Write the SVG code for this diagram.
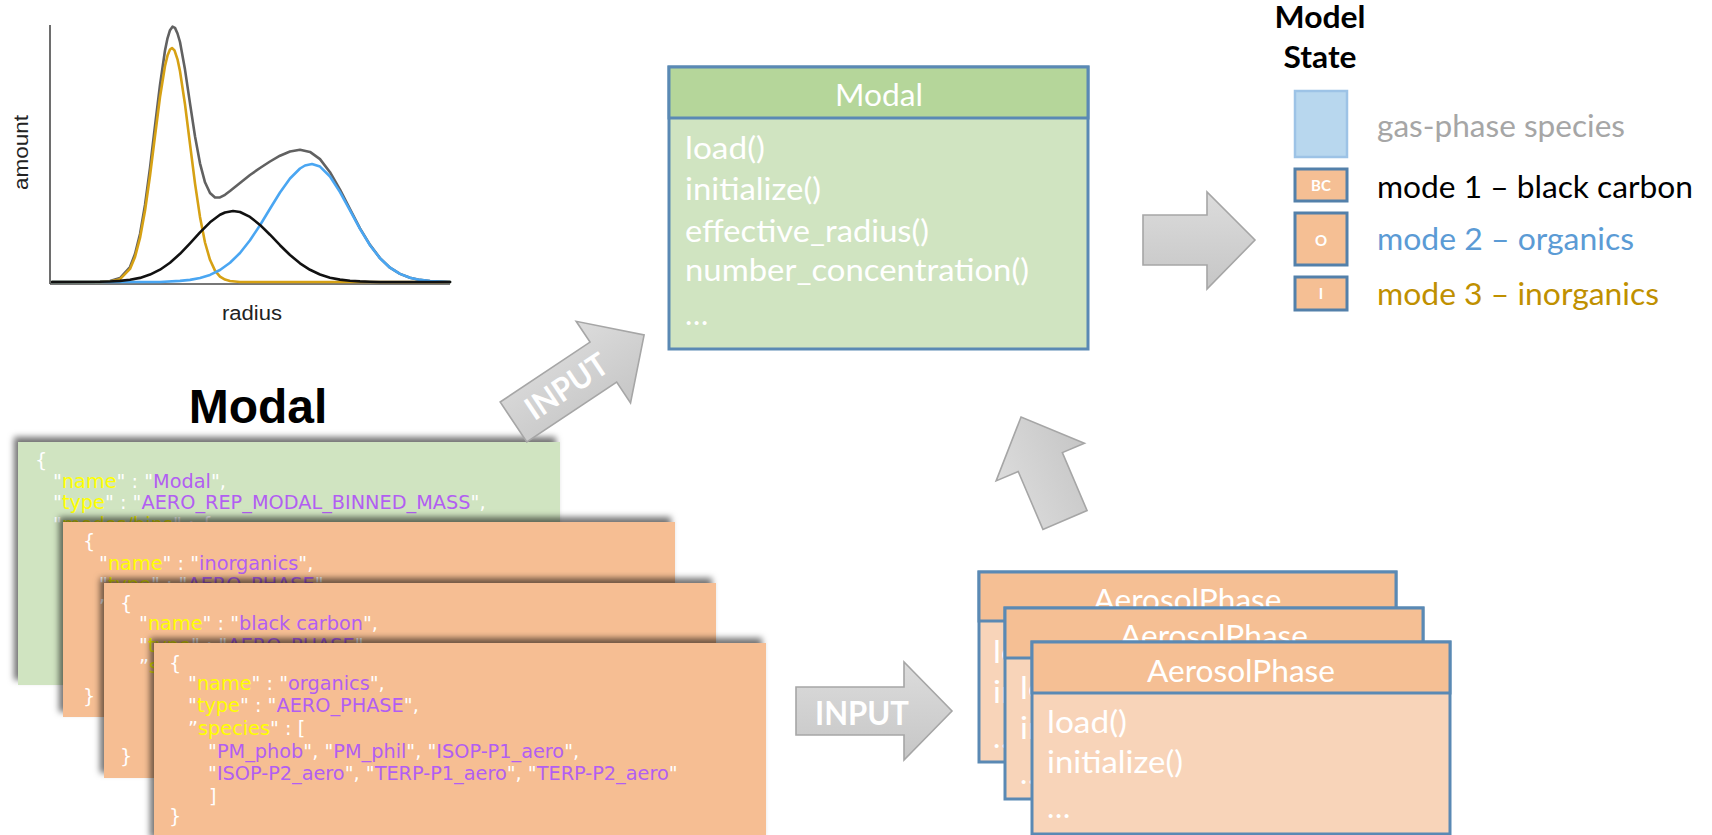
<svg xmlns="http://www.w3.org/2000/svg" width="1712" height="835" viewBox="0 0 1712 835">
  <defs>
    <linearGradient id="arrowFill" x1="0" y1="0" x2="0" y2="1">
      <stop offset="0" stop-color="#dcdcdc"/>
      <stop offset="1" stop-color="#c6c6c6"/>
    </linearGradient>
    <!-- soft drop shadow cast up and to the left by the stacked JSON cards -->
    <filter id="cardShadow" x="-5%" y="-10%" width="110%" height="120%">
      <feGaussianBlur in="SourceAlpha" stdDeviation="3"/>
      <feOffset dx="-4" dy="-5" result="blur"/>
      <feFlood flood-color="#000" flood-opacity="0.55"/>
      <feComposite in2="blur" operator="in"/>
      <feMerge>
        <feMergeNode/>
        <feMergeNode in="SourceGraphic"/>
      </feMerge>
    </filter>
  </defs>
  <style>
    .axis { stroke: #4a4a4a; stroke-width: 1.6; fill: none; }
    .curve { fill: none; stroke-width: 2.6; stroke-linejoin: round; stroke-linecap: round; }
    .chartLabel { font-family: "Liberation Sans", Arial, sans-serif; font-size: 19.5px; fill: #222; }
    .json { font-family: "DejaVu Sans", Verdana, sans-serif; font-size: 19.3px; white-space: pre; }
    .p { fill: #ffffff; }
    .k { fill: #ffff00; }
    .v { fill: #b25ef2; }
    .green { fill: #d0e4c1; }
    .orange { fill: #f6be93; }
    .cal { font-family: Lato, "Open Sans", sans-serif; font-size: 31px; }
    .calb { font-family: Lato, "Open Sans", sans-serif; font-size: 31px; font-weight: bold; }
    .white { fill: #ffffff; }
    .frame { stroke: #5a89b4; stroke-width: 3; }
    .hdrGreen { fill: #b5d69a; }
    .bodyGreen { fill: #d0e4c1; }
    .hdrOrange { fill: #f5bf94; }
    .bodyOrange { fill: #f8d4b9; }
    .modeBox { fill: #f5bf94; stroke: #5380aa; stroke-width: 3; }
    .modeTag { font-family: Lato, "Open Sans", sans-serif; font-size: 15px; font-weight: bold; fill: #fff; text-anchor: middle; }
    .blockArrow { fill: url(#arrowFill); stroke: #a6a6a6; stroke-width: 1.6; }
    .arrowLabel { font-family: Lato, "Open Sans", sans-serif; font-size: 32px; font-weight: bold; fill: #fff; }
  </style>

  <rect width="1712" height="835" fill="#ffffff"/>

  <!-- modal size distribution sketch -->
  <g id="size-distribution">
    <line class="axis" x1="50" y1="25" x2="50" y2="284"/>
    <line class="axis" x1="50" y1="284" x2="450" y2="284"/>
    <polyline class="curve" stroke="#616161" stroke-width="3" points="52,282 100,282 110,281 120,278 130,267 135,254 140,234 145,205 150,168 155,126 160,85 165,50.5 167.5,38.3 170,30.2 172.5,26.7 175,27.9 177.5,33.5 180,42 185,69.6 190,103.4 195,136.2 200,163.3 205,182.3 210,193 215,197.5 220,197.4 225,194.8 230,191 240,183 250,175 260,168 270,161.5 280,155.7 290,151.5 300,149.8 310,151.9 320,159.1 330,172.2 340,189.7 350,209.2 360,228.3 370,244.9 380,258.1 390,267.7 400,273.9 410,277.8 420,279.9 430,281 440,281.6 450,282"/>
    <polyline class="curve" stroke="#d6a114" points="52,282 100,282 110,281.6 120,279.2 130,268.9 135,257 140,238 145,210.8 150,175.8 155,136 160,97 165,66 167.5,55.6 170,49.5 172,48 174.5,50.4 177.5,59.3 180,71.2 185,104.4 190,144.2 195,183.3 200,216.9 205,242.5 210,259.8 215,270.6 220,276.6 225,279.6 230,281 240,282 450,282"/>
    <polyline class="curve" stroke="#4aa6f2" points="52,282 160,282 180,280.9 190,279.9 200,278 210,274.9 220,270 230,262.8 240,253 250,240.3 260,225.2 270,208.8 280,192.5 290,178.5 300,168.5 305,165.5 312,164 320,166.6 330,176.5 340,192.1 350,210.4 360,228.9 370,245.2 380,258.2 390,267.7 400,273.9 410,277.8 420,279.9 430,281 440,281.6 450,282"/>
    <polyline class="curve" stroke="#111111" points="52,282 100,281.8 110,281.5 120,280.9 130,279.8 140,277.9 150,274.6 160,269.7 170,262.7 180,253.8 190,243.3 200,232.4 210,222.3 220,214.8 225,212.5 233,211 240,212 250,216.9 260,224.9 270,234.7 280,245.2 290,255 300,263.3 310,269.8 320,274.5 330,277.7 340,279.6 350,280.8 360,281.4 370,281.7 380,282 450,282"/>
    <text class="chartLabel" x="222" y="320" textLength="60" lengthAdjust="spacingAndGlyphs">radius</text>
    <text class="chartLabel" transform="translate(28 190) rotate(-90)" x="0" y="0" textLength="75" lengthAdjust="spacingAndGlyphs">amount</text>
  </g>

  <text id="config-title" x="258" y="423" font-family="Liberation Sans, Arial, sans-serif" font-size="48" font-weight="bold" text-anchor="middle" fill="#000">Modal</text>

  <!-- JSON configuration: aerosol representation -->
  <g id="json-modal">
    <rect class="green" x="18" y="442" width="542" height="243" filter="url(#cardShadow)"/>
    <text class="json" x="35" y="467"><tspan class="p">{</tspan></text>
    <text class="json" x="53" y="488"><tspan class="p">"</tspan><tspan class="k">name</tspan><tspan class="p">" : "</tspan><tspan class="v">Modal</tspan><tspan class="p">",</tspan></text>
    <text class="json" x="53" y="509"><tspan class="p">"</tspan><tspan class="k">type</tspan><tspan class="p">" : "</tspan><tspan class="v">AERO_REP_MODAL_BINNED_MASS</tspan><tspan class="p">",</tspan></text>
    <text class="json" x="53" y="531"><tspan class="p">"</tspan><tspan class="k">modes/bins</tspan><tspan class="p">" : {</tspan></text>
  </g>

  <!-- JSON configuration: aerosol phases -->
  <g id="json-inorganics">
    <rect class="orange" x="63" y="522" width="612" height="195" filter="url(#cardShadow)"/>
    <text class="json" x="83" y="548"><tspan class="p">{</tspan></text>
    <text class="json" x="99" y="570"><tspan class="p">"</tspan><tspan class="k">name</tspan><tspan class="p">" : "</tspan><tspan class="v">inorganics</tspan><tspan class="p">",</tspan></text>
    <text class="json" x="99" y="591"><tspan class="p">"</tspan><tspan class="k">type</tspan><tspan class="p">" : "</tspan><tspan class="v">AERO_PHASE</tspan><tspan class="p">",</tspan></text>
    <text class="json" x="99" y="613"><tspan class="p">”</tspan><tspan class="k">species</tspan><tspan class="p">" : [</tspan></text>
    <text class="json" x="83" y="703"><tspan class="p">}</tspan></text>
  </g>

  <g id="json-black-carbon">
    <rect class="orange" x="104" y="583" width="612" height="195" filter="url(#cardShadow)"/>
    <text class="json" x="120" y="610"><tspan class="p">{</tspan></text>
    <text class="json" x="139" y="630"><tspan class="p">"</tspan><tspan class="k">name</tspan><tspan class="p">" : "</tspan><tspan class="v">black carbon</tspan><tspan class="p">",</tspan></text>
    <text class="json" x="139" y="652"><tspan class="p">"</tspan><tspan class="k">type</tspan><tspan class="p">" : "</tspan><tspan class="v">AERO_PHASE</tspan><tspan class="p">",</tspan></text>
    <text class="json" x="139" y="673"><tspan class="p">”</tspan><tspan class="k">species</tspan><tspan class="p">" : [</tspan></text>
    <text class="json" x="120" y="763"><tspan class="p">}</tspan></text>
  </g>

  <g id="json-organics">
    <rect class="orange" x="154" y="643" width="612" height="200" filter="url(#cardShadow)"/>
    <text class="json" x="169" y="670"><tspan class="p">{</tspan></text>
    <text class="json" x="188" y="690"><tspan class="p">"</tspan><tspan class="k">name</tspan><tspan class="p">" : "</tspan><tspan class="v">organics</tspan><tspan class="p">",</tspan></text>
    <text class="json" x="188" y="712"><tspan class="p">"</tspan><tspan class="k">type</tspan><tspan class="p">" : "</tspan><tspan class="v">AERO_PHASE</tspan><tspan class="p">",</tspan></text>
    <text class="json" x="188" y="735"><tspan class="p">”</tspan><tspan class="k">species</tspan><tspan class="p">" : [</tspan></text>
    <text class="json" x="208" y="758"><tspan class="p">"</tspan><tspan class="v">PM_phob</tspan><tspan class="p">", "</tspan><tspan class="v">PM_phil</tspan><tspan class="p">", "</tspan><tspan class="v">ISOP-P1_aero</tspan><tspan class="p">",</tspan></text>
    <text class="json" x="208" y="780"><tspan class="p">"</tspan><tspan class="v">ISOP-P2_aero</tspan><tspan class="p">", "</tspan><tspan class="v">TERP-P1_aero</tspan><tspan class="p">", "</tspan><tspan class="v">TERP-P2_aero</tspan><tspan class="p">"</tspan></text>
    <text class="json" x="209" y="803"><tspan class="p">]</tspan></text>
    <text class="json" x="169" y="823"><tspan class="p">}</tspan></text>
  </g>

  <!-- Modal aerosol representation class -->
  <g id="modal-class">
    <rect class="bodyGreen frame" x="669" y="67" width="419" height="282"/>
    <rect class="hdrGreen frame" x="669" y="67" width="419" height="51"/>
    <text class="cal white" x="879" y="106" text-anchor="middle" textLength="88" lengthAdjust="spacingAndGlyphs">Modal</text>
    <text class="cal white" x="685" y="159" textLength="80" lengthAdjust="spacingAndGlyphs">load()</text>
    <text class="cal white" x="685" y="200" textLength="136" lengthAdjust="spacingAndGlyphs">initialize()</text>
    <text class="cal white" x="685" y="242" textLength="244" lengthAdjust="spacingAndGlyphs">effective_radius()</text>
    <text class="cal white" x="685" y="281" textLength="344" lengthAdjust="spacingAndGlyphs">number_concentration()</text>
    <text class="cal white" x="685" y="325">…</text>
  </g>

  <!-- AerosolPhase class instances -->
  <g id="aerosol-phase-1">
    <rect class="bodyOrange frame" x="979" y="572" width="417" height="190"/>
    <rect class="hdrOrange frame" x="979" y="572" width="417" height="49"/>
    <text class="cal white" x="1187.5" y="611" text-anchor="middle" textLength="188" lengthAdjust="spacingAndGlyphs">AerosolPhase</text>
    <text class="cal white" x="993" y="663" textLength="80" lengthAdjust="spacingAndGlyphs">load()</text>
    <text class="cal white" x="993" y="703" textLength="136" lengthAdjust="spacingAndGlyphs">initialize()</text>
    <text class="cal white" x="993" y="748">…</text>
  </g>
  <g id="aerosol-phase-2">
    <rect class="bodyOrange frame" x="1005" y="608" width="418" height="191"/>
    <rect class="hdrOrange frame" x="1005" y="608" width="418" height="50"/>
    <text class="cal white" x="1214" y="647" text-anchor="middle" textLength="188" lengthAdjust="spacingAndGlyphs">AerosolPhase</text>
    <text class="cal white" x="1020" y="699" textLength="80" lengthAdjust="spacingAndGlyphs">load()</text>
    <text class="cal white" x="1020" y="739" textLength="136" lengthAdjust="spacingAndGlyphs">initialize()</text>
    <text class="cal white" x="1020" y="784">…</text>
  </g>
  <g id="aerosol-phase-3">
    <rect class="bodyOrange frame" x="1032" y="642" width="418" height="192"/>
    <rect class="hdrOrange frame" x="1032" y="642" width="418" height="51"/>
    <text class="cal white" x="1241" y="682" text-anchor="middle" textLength="188" lengthAdjust="spacingAndGlyphs">AerosolPhase</text>
    <text class="cal white" x="1047" y="733" textLength="80" lengthAdjust="spacingAndGlyphs">load()</text>
    <text class="cal white" x="1047" y="773" textLength="136" lengthAdjust="spacingAndGlyphs">initialize()</text>
    <text class="cal white" x="1047" y="818">…</text>
  </g>

  <!-- model state vector legend -->
  <g id="model-state">
    <text class="calb" x="1320" y="28" text-anchor="middle" fill="#000" textLength="91" lengthAdjust="spacingAndGlyphs">Model</text>
    <text class="calb" x="1320" y="68" text-anchor="middle" fill="#000" textLength="73" lengthAdjust="spacingAndGlyphs">State</text>
    <rect x="1295" y="91" width="52" height="66" fill="#b8d7ee" stroke="#9dc3e6" stroke-width="2.5"/>
    <text class="cal" x="1377" y="137" fill="#a6a6a6" textLength="248" lengthAdjust="spacingAndGlyphs">gas-phase species</text>
    <rect class="modeBox" x="1295" y="169" width="52" height="32"/>
    <text class="modeTag" x="1321" y="190.5">BC</text>
    <text class="cal" x="1377" y="198" fill="#000000" textLength="316" lengthAdjust="spacingAndGlyphs">mode 1 – black carbon</text>
    <rect class="modeBox" x="1295" y="213" width="52" height="52"/>
    <text class="modeTag" x="1321" y="245.5">O</text>
    <text class="cal" x="1377" y="250" fill="#5b9bd5" textLength="257" lengthAdjust="spacingAndGlyphs">mode 2 – organics</text>
    <rect class="modeBox" x="1295" y="277" width="52" height="33"/>
    <text class="modeTag" x="1321" y="299">I</text>
    <text class="cal" x="1377" y="305" fill="#bf9000" textLength="282" lengthAdjust="spacingAndGlyphs">mode 3 – inorganics</text>
  </g>

  <!-- block arrows between stages -->
  <g id="connectors">
    <g transform="translate(513.5 422) rotate(-33.7)">
      <polygon class="blockArrow" points="0,-24 108,-24 108,-49 157,0 108,49 108,24 0,24"/>
      <text class="arrowLabel" x="18" y="11" font-size="30" textLength="92" lengthAdjust="spacingAndGlyphs">INPUT</text>
    </g>
    <g>
      <polygon class="blockArrow" points="796,687 904,687 904,662 952,711 904,760 904,735 796,735"/>
      <text class="arrowLabel" x="815" y="725" textLength="94" lengthAdjust="spacingAndGlyphs">INPUT</text>
    </g>
    <g transform="translate(1065 520) rotate(-113.1)">
      <polygon class="blockArrow" points="0,-24 63,-24 63,-48 112,0 63,48 63,24 0,24"/>
    </g>
    <polygon class="blockArrow" points="1143,215 1207,215 1207,192 1255,240 1207,289 1207,265 1143,265"/>
  </g>
</svg>
